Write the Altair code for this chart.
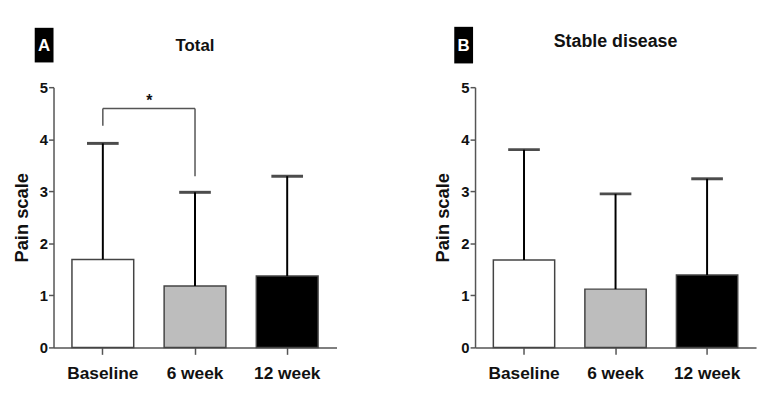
import altair as alt
import pandas as pd

categories = ["Baseline", "6 week", "12 week"]
fills = ["#ffffff", "#bdbdbd", "#000000"]

total_mean = [1.69, 1.18, 1.37]
total_top = [3.92, 2.98, 3.29]

stable_mean = [1.68, 1.12, 1.39]
stable_top = [3.80, 2.95, 3.24]

# significance bracket (Total panel): Baseline vs 6 week
bracket_from = "Baseline"
bracket_to = "6 week"
bracket_y = 4.59
bracket_left_bottom = 4.26
bracket_right_bottom = 3.29
star_y = 4.74

y_ticks = [0, 1, 2, 3, 4, 5]

FONT = "Liberation Sans, Arial, sans-serif"
NARROW = "Liberation Sans Narrow, Arial Narrow, Liberation Sans, Arial, sans-serif"
AXIS_COLOR = "#555555"


def xenc(field="cat", with_axis=False, band=None):
    scale = alt.Scale(domain=categories, paddingInner=0.33, paddingOuter=0.2)
    kw = {}
    if band is not None:
        kw["bandPosition"] = band
    if with_axis:
        axis = alt.Axis(labelAngle=0, labelFont=FONT, labelFontSize=17.5, labelFontWeight="bold",
                        labelColor="#111", labelPadding=10, tickSize=7, tickColor=AXIS_COLOR,
                        tickWidth=1.5, domainColor=AXIS_COLOR, domainWidth=1.5, grid=False)
        return alt.X(f"{field}:N", scale=scale, sort=categories, axis=axis, title=None, **kw)
    return alt.X(f"{field}:N", scale=scale, sort=categories, title=None, **kw)


def yenc(field, with_axis=False):
    scale = alt.Scale(domain=[0, 5], nice=False)
    if with_axis:
        axis = alt.Axis(values=y_ticks, labelFont=NARROW, labelFontSize=15, labelFontWeight="bold",
                        labelColor="#111", labelPadding=1, tickSize=5, tickColor=AXIS_COLOR,
                        tickWidth=1.5, domainColor=AXIS_COLOR, domainWidth=1.5, grid=False,
                        titleFont=FONT, titleFontSize=18.5, titleFontWeight="bold", titleColor="#111",
                        titlePadding=8)
        return alt.Y(f"{field}:Q", scale=scale, axis=axis, title="Pain scale")
    return alt.Y(f"{field}:Q", scale=scale, title="Pain scale")


def panel(means, tops, title, title_size, title_y, letter, box, width, bracket=False):
    df = pd.DataFrame({"cat": categories, "mean": means, "top": tops, "fill": fills})
    base = alt.Chart(df)
    bars = base.mark_bar(stroke="#444444", strokeWidth=1.5).encode(
        x=xenc(with_axis=True), y=yenc("mean", with_axis=True),
        fill=alt.Fill("fill:N", scale=None))
    err = base.mark_rule(color="black", strokeWidth=2).encode(
        x=xenc(), y=yenc("mean"), y2="top:Q")
    caps = base.mark_tick(color="black", size=32, thickness=3).encode(
        x=xenc(), y=yenc("top"))

    lab = pd.DataFrame({"t": [letter], "title": [title]})
    x0, x1, y0, y1 = box
    rect = alt.Chart(lab).mark_rect(color="black").encode(
        x=alt.value(x0), x2=alt.value(x1), y=alt.value(y0), y2=alt.value(y1))
    txt = alt.Chart(lab).mark_text(color="white", font=FONT, fontSize=17, fontWeight="bold",
                                   baseline="middle", align="center").encode(
        x=alt.value((x0 + x1) / 2), y=alt.value((y0 + y1) / 2 + 1), text="t:N")
    ttl = alt.Chart(lab).mark_text(color="#111", font=FONT, fontSize=title_size, fontWeight="bold",
                                   baseline="alphabetic", align="center").encode(
        x=alt.value(width / 2), y=alt.value(title_y), text="title:N")

    layers = [bars, err, caps]
    if bracket:
        bdf = pd.DataFrame({"cat": [bracket_from], "cat2": [bracket_to], "y": [bracket_y]})
        hline = alt.Chart(bdf).mark_rule(color=AXIS_COLOR, strokeWidth=1.5).encode(
            x=xenc(band=0.5), x2=alt.X2("cat2", bandPosition=0.5), y=yenc("y"))
        ldf = pd.DataFrame({"cat": [bracket_from, bracket_to],
                            "lo": [bracket_left_bottom, bracket_right_bottom],
                            "hi": [bracket_y, bracket_y]})
        legs = alt.Chart(ldf).mark_rule(color=AXIS_COLOR, strokeWidth=1.5).encode(
            x=xenc(), y=yenc("lo"), y2="hi:Q")
        sdf = pd.DataFrame({"cat": [bracket_from], "y": [star_y], "s": ["*"]})
        star = alt.Chart(sdf).mark_text(font=FONT, fontSize=16, fontWeight="bold", dx=47,
                                        baseline="middle", color="#111").encode(
            x=xenc(), y=yenc("y"), text="s:N")
        layers += [hline, legs, star]
    layers += [rect, txt, ttl]
    return alt.layer(*layers).properties(width=width, height=263)


pa = panel(total_mean, total_top, "Total", 17, -37, "A", (-19, 0, -60, -25), 286, bracket=True)
pb = panel(stable_mean, stable_top, "Stable disease", 18, -41, "B", (-21, -2, -61, -24), 284)

chart = alt.hconcat(pa, pb, spacing=98).properties(
    padding={"left": 4, "top": 17, "right": 5, "bottom": 5}
).configure_view(stroke=None)

chart.save("out.html", embed_options={"renderer": "svg", "actions": False})
